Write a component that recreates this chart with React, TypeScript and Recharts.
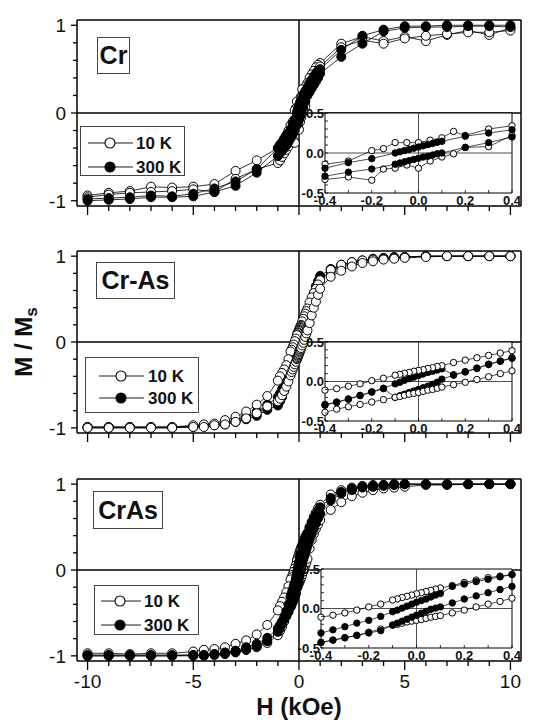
import React from 'react';
import { ScatterChart, Scatter, XAxis, YAxis, ReferenceLine, Legend } from 'recharts';

const FONT = "'Liberation Sans', Arial, Helvetica, sans-serif";

// ---- Cr film: field grids (kOe) and reduced magnetisation M/Ms ----
const crH10 = [-10, -9, -8, -7, -6, -5, -4, -3, -2, -1, -0.9, -0.8, -0.7, -0.6, -0.5,
  -0.4, -0.3, -0.2, -0.15, -0.1, -0.05, 0, 0.05, 0.1, 0.15, 0.2, 0.3, 0.4,
  0.5, 0.6, 0.7, 0.8, 0.9, 1, 2, 3, 4, 5, 6, 7, 8, 9, 10];
const crUpper10 = [-0.94, -0.91, -0.89, -0.84, -0.85, -0.84, -0.81, -0.66, -0.54, -0.40,
  -0.36, -0.33, -0.29, -0.25, -0.20,
  -0.14, -0.10, 0.03, 0.055, 0.13, 0.13, 0.13, 0.16, 0.19, 0.27, 0.22, 0.30, 0.34,
  0.40, 0.44, 0.48, 0.52, 0.55,
  0.57, 0.79, 0.87, 0.82, 0.87, 0.82, 0.89, 0.94, 0.89, 0.97];
const crLower10 = [-0.96, -0.93, -0.91, -0.90, -0.89, -0.87, -0.90, -0.75, -0.64, -0.57,
  -0.54, -0.50, -0.46, -0.42, -0.38,
  -0.33, -0.30, -0.34, -0.20, -0.19, -0.15, -0.19, -0.10, -0.05, -0.01, 0.07, 0.08, 0.22,
  0.27, 0.32, 0.38, 0.43, 0.48,
  0.53, 0.75, 0.83, 0.79, 0.85, 0.88, 0.90, 0.92, 0.92, 0.94];

const crH300 = [-10, -9, -8, -7, -6, -5, -4, -3, -2, -1, -0.9, -0.8, -0.7, -0.6, -0.5,
  -0.4, -0.3, -0.2, -0.1, -0.08, -0.06, -0.04, -0.02, 0, 0.02, 0.04, 0.06, 0.08, 0.1, 0.2, 0.3, 0.4,
  0.5, 0.6, 0.7, 0.8, 0.9, 1, 2, 3, 4, 5, 6, 7, 8, 9, 10];
const crUpper300 = [-0.98, -0.97, -0.96, -0.94, -0.95, -0.92, -0.86, -0.78, -0.64, -0.40,
  -0.37, -0.34, -0.30, -0.26, -0.23,
  -0.19, -0.12, -0.07, 0.0, 0.015, 0.03, 0.045, 0.06, 0.075, 0.09, 0.105, 0.12, 0.135, 0.146, 0.21, 0.25, 0.29,
  0.34, 0.38, 0.42, 0.45, 0.48,
  0.50, 0.72, 0.88, 0.95, 0.99, 0.99, 1.0, 1.0, 1.0, 1.0];
const crLower300 = [-1.0, -0.99, -0.98, -0.96, -0.96, -0.95, -0.90, -0.83, -0.68, -0.49,
  -0.46, -0.43, -0.40, -0.37, -0.33,
  -0.29, -0.24, -0.20, -0.14, -0.125, -0.11, -0.095, -0.08, -0.065, -0.05, -0.04, -0.025, -0.01, 0.0, 0.07, 0.13, 0.20,
  0.24, 0.28, 0.32, 0.36, 0.40,
  0.45, 0.64, 0.79, 0.93, 0.97, 0.98, 0.98, 0.99, 0.99, 0.98];

// ---- shared field grid for Cr-As and CrAs ----
const fieldGrid = [-10, -9, -8, -7, -6, -5, -4.5, -4, -3.5, -3, -2.5, -2, -1.5, -1,
  -0.9, -0.8, -0.7, -0.6, -0.5, -0.4, -0.35, -0.3, -0.25, -0.2, -0.15,
  -0.1, -0.08, -0.06, -0.04, -0.02, 0, 0.02, 0.04, 0.06, 0.08, 0.1,
  0.15, 0.2, 0.25, 0.3, 0.35, 0.4, 0.5, 0.6, 0.7, 0.8, 0.9,
  1, 1.5, 2, 2.5, 3, 3.5, 4, 4.5, 5, 6, 7, 8, 9, 10];

// ---- Cr-As ----
const crAsMixUpper10 = [-0.99, -0.99, -0.99, -0.99, -0.99,
  -0.97, -0.96, -0.95, -0.91, -0.87, -0.81, -0.73, -0.63, -0.45,
  -0.40, -0.36, -0.32, -0.27, -0.20,
  -0.11, -0.09, -0.06, -0.03, 0.01, 0.04,
  0.08, 0.09, 0.105, 0.115, 0.13, 0.14, 0.15, 0.165, 0.175, 0.19, 0.20,
  0.24, 0.27, 0.30, 0.33, 0.36, 0.39,
  0.46, 0.52, 0.57, 0.62, 0.67,
  0.72, 0.84, 0.90, 0.93, 0.95, 0.96, 0.97, 0.98, 0.99,
  1.0, 1.0, 1.0, 1.0, 1.0];
const crAsMixLower10 = [-1.0, -1.0, -1.0, -1.0, -1.0,
  -0.99, -0.99, -0.97, -0.96, -0.93, -0.89, -0.83, -0.75, -0.69,
  -0.66, -0.62, -0.57, -0.52, -0.46,
  -0.39, -0.35, -0.32, -0.29, -0.26, -0.23,
  -0.20, -0.19, -0.175, -0.16, -0.15, -0.14, -0.125, -0.11, -0.10, -0.085, -0.07,
  -0.04, -0.01, 0.025, 0.06, 0.10, 0.135,
  0.22, 0.31, 0.40, 0.47, 0.55,
  0.62, 0.76, 0.83, 0.88, 0.92, 0.94, 0.96, 0.97, 0.98,
  0.99, 1.0, 1.0, 1.0, 1.0];
const crAsMixUpper300 = [-0.99, -0.99, -0.99, -0.99, -0.99,
  -0.98, -0.97, -0.96, -0.94, -0.91, -0.87, -0.81, -0.73, -0.64,
  -0.60, -0.55, -0.49, -0.42, -0.35,
  -0.29, -0.26, -0.22, -0.175, -0.13, -0.085,
  -0.03, -0.01, 0.015, 0.035, 0.055, 0.075, 0.095, 0.115, 0.13, 0.145, 0.16,
  0.085, 0.125, 0.17, 0.22, 0.26, 0.30,
  0.40, 0.49, 0.57, 0.65, 0.71,
  0.77, 0.85, 0.90, 0.93, 0.95, 0.97, 0.98, 0.99, 0.99,
  1.0, 1.0, 1.0, 1.0, 1.0];
const crAsMixLower300 = [-1.0, -1.0, -1.0, -1.0, -1.0,
  -0.99, -0.98, -0.97, -0.96, -0.93, -0.90, -0.86, -0.79, -0.74,
  -0.69, -0.64, -0.57, -0.49, -0.40,
  -0.30, -0.265, -0.225, -0.18, -0.135, -0.09,
  -0.20, -0.18, -0.16, -0.14, -0.12, -0.10, -0.08, -0.06, -0.035, -0.01, 0.03,
  0.08, 0.12, 0.165, 0.215, 0.255, 0.295,
  0.36, 0.44, 0.52, 0.60, 0.66,
  0.72, 0.82, 0.88, 0.92, 0.94, 0.96, 0.97, 0.98, 0.99,
  1.0, 1.0, 1.0, 1.0, 1.0];

// ---- CrAs ----
const crAsUpper10 = [-0.97, -0.97, -0.98, -0.97, -0.97,
  -0.95, -0.93, -0.92, -0.90, -0.86, -0.82, -0.75, -0.64, -0.47,
  -0.42, -0.37, -0.32, -0.26, -0.19,
  -0.11, -0.085, -0.056, -0.02, 0.02, 0.056,
  0.107, 0.122, 0.14, 0.154, 0.17, 0.186, 0.20, 0.216, 0.23, 0.246, 0.26,
  0.29, 0.33, 0.36, 0.39, 0.41, 0.43,
  0.50, 0.56, 0.62, 0.67, 0.72,
  0.76, 0.88, 0.93, 0.96, 0.98, 0.99, 0.99, 1.0, 1.0,
  1.0, 1.0, 1.0, 1.0, 1.0];
const crAsLower10 = [-1.0, -1.0, -1.0, -1.0, -1.0,
  -0.99, -0.99, -0.98, -0.97, -0.95, -0.93, -0.90, -0.85, -0.76,
  -0.71, -0.66, -0.60, -0.54, -0.49,
  -0.43, -0.40, -0.37, -0.34, -0.30, -0.26,
  -0.21, -0.20, -0.186, -0.17, -0.16, -0.15, -0.14, -0.125, -0.11, -0.10, -0.09,
  -0.056, -0.02, 0.02, 0.056, 0.09, 0.13,
  0.25, 0.35, 0.42, 0.48, 0.53,
  0.58, 0.70, 0.79, 0.86, 0.90, 0.93, 0.95, 0.96, 0.97,
  0.99, 0.99, 1.0, 1.0, 1.0];
const crAsUpper300 = [-0.99, -0.99, -0.99, -0.99, -0.99,
  -0.99, -0.99, -0.98, -0.96, -0.94, -0.90, -0.86, -0.79, -0.68,
  -0.64, -0.60, -0.55, -0.48, -0.40,
  -0.31, -0.27, -0.23, -0.185, -0.15, -0.10,
  -0.04, -0.02, 0.005, 0.03, 0.055, 0.08, 0.10, 0.12, 0.145, 0.17, 0.19,
  0.28, 0.31, 0.34, 0.37, 0.40, 0.43,
  0.49, 0.55, 0.60, 0.65, 0.69,
  0.73, 0.84, 0.91, 0.95, 0.97, 0.98, 0.99, 1.0, 1.0,
  1.0, 1.0, 1.0, 1.0, 1.0];
const crAsLower300 = [-1.0, -1.0, -1.0, -1.0, -1.0,
  -1.0, -1.0, -0.99, -0.98, -0.96, -0.93, -0.89, -0.83, -0.72,
  -0.68, -0.63, -0.58, -0.53, -0.48,
  -0.43, -0.40, -0.37, -0.34, -0.31, -0.28,
  -0.21, -0.185, -0.16, -0.135, -0.11, -0.085, -0.06, -0.035, -0.01, 0.005, 0.02,
  0.07, 0.12, 0.16, 0.20, 0.24, 0.28,
  0.35, 0.42, 0.48, 0.54, 0.60,
  0.66, 0.81, 0.89, 0.93, 0.96, 0.97, 0.98, 0.99, 1.0,
  1.0, 1.0, 1.0, 1.0, 1.0];

// ---- axes ----
const mainXTicks = [-10, -9, -8, -7, -6, -5, -4, -3, -2, -1, 0, 1, 2, 3, 4, 5, 6, 7, 8, 9, 10];
const mainXLabels = [-10, -5, 0, 5, 10];
const mainYTicks = [-1, -0.8, -0.6, -0.4, -0.2, 0, 0.2, 0.4, 0.6, 0.8, 1];
const mainYLabels = [-1, 0, 1];
const insetXTicks = [-0.4, -0.3, -0.2, -0.1, 0, 0.1, 0.2, 0.3, 0.4];
const insetXLabels = [-0.4, -0.2, 0, 0.2, 0.4];
const insetYTicks = [-0.5, -0.4, -0.3, -0.2, -0.1, 0, 0.1, 0.2, 0.3, 0.4, 0.5];
const insetYLabels = [-0.5, 0, 0.5];
const legendOrder = ['10 K', '300 K'];

const X_DOMAIN: [number, number] = [-10.5, 10.5];
const Y_DOMAIN: [number, number] = [-1.06, 1.06];

type Pt = { x: number; y: number };
const branch = (h: number[], m: number[], descending: boolean, lim = Infinity): Pt[] => {
  const pts = h.map((x, i) => ({ x, y: m[i] })).filter((p) => Math.abs(p.x) <= lim + 1e-9);
  return descending ? pts.reverse() : pts;
};

const has = (list: number[], v: number) => list.some((m) => Math.abs(m - v) < 1e-9);

const mainXTick = (showLabel: boolean) => (p: any) => {
  const v = Number(p.payload.value);
  const major = has(mainXLabels, v);
  return (
    <g>
      <line x1={p.x} x2={p.x} y1={p.y} y2={p.y + (major ? 9 : 5)} stroke="#000" strokeWidth={1.3} />
      {major && showLabel ? (
        <text x={p.x} y={p.y + 27} textAnchor="middle" fontFamily={FONT} fontSize={19} fill="#111">{v}</text>
      ) : null}
    </g>
  );
};

const mainYTick = (p: any) => {
  const v = Number(p.payload.value);
  const major = has(mainYLabels, v);
  return (
    <g>
      <line x1={p.x - (major ? 6 : 4)} x2={p.x} y1={p.y} y2={p.y} stroke="#000" strokeWidth={1.3} />
      {major ? (
        <text x={p.x - 11} y={p.y + 7} textAnchor="end" fontFamily={FONT} fontSize={19} fill="#111">{v}</text>
      ) : null}
    </g>
  );
};

const insetXTick = (p: any) => {
  const v = Number(p.payload.value);
  return (
    <g>
      <line x1={p.x} x2={p.x} y1={p.y} y2={p.y - 3} stroke="#000" strokeWidth={0.8} />
      {has(insetXLabels, v) ? (
        <text x={p.x} y={p.y + 12} textAnchor="middle" fontFamily={FONT} fontWeight="bold" fontSize={13} fill="#111">{v.toFixed(1)}</text>
      ) : null}
    </g>
  );
};

const insetYTick = (p: any) => {
  const v = Number(p.payload.value);
  return (
    <g>
      <line x1={p.x} x2={p.x + 3} y1={p.y} y2={p.y} stroke="#000" strokeWidth={0.8} />
      {has(insetYLabels, v) ? (
        <text x={p.x - 1} y={p.y + 4.5} textAnchor="end" fontFamily={FONT} fontWeight="bold" fontSize={13} fill="#111">{v.toFixed(1)}</text>
      ) : null}
    </g>
  );
};

const marker = (filled: boolean, r: number) => (p: any) => (
  <circle cx={p.cx} cy={p.cy} r={r} fill={filled ? '#000' : '#fff'} stroke="#000" strokeWidth={1} />
);

type Series = { name: string; filled: boolean; h: number[]; upper: number[]; lower: number[] };
type LegendGeom = { left: number; top: number; w: number; h: number; lineX1: number; lineX2: number; markerX: number; textX: number; rowY: number[] };

const renderLegend = (g: LegendGeom) => (props: any) => {
  const names = (props.payload ?? []).map((e: any) => e.value);
  const rows = legendOrder.filter((n) => names.length === 0 || names.includes(n));
  return (
    <div style={{ width: g.w, height: g.h, border: '1px solid #444', boxSizing: 'border-box', background: '#fff' }}>
      <svg width={g.w - 2} height={g.h - 2} style={{ display: 'block', overflow: 'visible' }}>
        {rows.map((name, i) => (
          <g key={name}>
            <line x1={g.lineX1} x2={g.lineX2} y1={g.rowY[i]} y2={g.rowY[i]} stroke="#000" strokeWidth={0.9} />
            <circle cx={g.markerX} cy={g.rowY[i]} r={5} fill={name === '300 K' ? '#000' : '#fff'} stroke="#000" strokeWidth={1.1} />
            <text x={g.textX} y={g.rowY[i] + 6} fontFamily={FONT} fontWeight="bold" fontSize={17} fill="#111">{name}</text>
          </g>
        ))}
      </svg>
    </div>
  );
};

type PanelLayout = { top: number; height: number; mTop: number; xAxisH: number };

function MainChart({ layout, series, legend, bottom, yTitle }: { layout: PanelLayout; series: Series[]; legend: LegendGeom; bottom?: boolean; yTitle?: boolean }) {
  return (
    <div style={{ position: 'absolute', left: 0, top: layout.top }}>
      <ScatterChart width={544} height={layout.height} margin={{ top: layout.mTop, right: 23, bottom: 0, left: 37 }}>
        <XAxis
          type="number" dataKey="x" domain={X_DOMAIN} ticks={mainXTicks} interval={0}
          tickLine={false} tickSize={0} tickMargin={0} tick={mainXTick(!!bottom)}
          axisLine={{ stroke: '#000', strokeWidth: 1.5 }} height={layout.xAxisH}
          label={bottom ? {
            content: () => (
              <text x={299} y={255} textAnchor="middle" fontFamily={FONT} fontWeight="bold" fontSize={24} fill="#111">H (kOe)</text>
            ),
          } : undefined}
        />
        <YAxis
          type="number" dataKey="y" domain={Y_DOMAIN} ticks={mainYTicks} interval={0}
          tickLine={false} tickSize={0} tickMargin={0} tick={mainYTick}
          axisLine={{ stroke: '#000', strokeWidth: 1.5 }} width={40}
          label={yTitle ? {
            content: () => (
              <text x={32} y={112} transform="rotate(-90 32 112)" textAnchor="middle" fontFamily={FONT} fontWeight="bold" fontSize={24} fill="#111">
                M / M<tspan dy={5} fontSize={17}>s</tspan>
              </text>
            ),
          } : undefined}
        />
        <ReferenceLine x={X_DOMAIN[1]} stroke="#000" strokeWidth={1.5} />
        <ReferenceLine y={Y_DOMAIN[1]} stroke="#000" strokeWidth={1.5} />
        <ReferenceLine x={0} stroke="#000" strokeWidth={1.5} />
        <ReferenceLine y={0} stroke="#000" strokeWidth={1.5} />
        {series.map((s) => (
          <React.Fragment key={s.name}>
            <Scatter
              name={s.name} data={branch(s.h, s.upper, true)} fill={s.filled ? '#000' : '#fff'}
              line={{ stroke: '#000', strokeWidth: 0.8 }} lineType="joint"
              shape={marker(s.filled, 4.5)} isAnimationActive={false}
            />
            <Scatter
              name={s.name + ' up'} legendType="none" data={branch(s.h, s.lower, false)} fill={s.filled ? '#000' : '#fff'}
              line={{ stroke: '#000', strokeWidth: 0.8 }} lineType="joint"
              shape={marker(s.filled, 4.5)} isAnimationActive={false}
            />
          </React.Fragment>
        ))}
        <Legend
          verticalAlign="middle" align="center" layout="horizontal"
          wrapperStyle={{ left: legend.left, top: legend.top, width: legend.w, height: legend.h }}
          content={renderLegend(legend)}
        />
      </ScatterChart>
    </div>
  );
}

type InsetBox = { left: number; top: number; w: number; h: number };

function InsetChart({ box, series }: { box: InsetBox; series: Series[] }) {
  const yW = 34, mTop = 8, mRight = 8, xH = 18;
  return (
    <>
      <div style={{ position: 'absolute', left: box.left, top: box.top, width: box.w, height: box.h, background: '#fff' }} />
      <div style={{ position: 'absolute', left: box.left - yW, top: box.top - mTop }}>
        <ScatterChart width={yW + box.w + mRight} height={mTop + box.h + xH} margin={{ top: mTop, right: mRight, bottom: 0, left: 0 }}>
          <XAxis
            type="number" dataKey="x" domain={[-0.4, 0.4]} ticks={insetXTicks} interval={0}
            tickLine={false} tickSize={0} tickMargin={0} tick={insetXTick}
            axisLine={{ stroke: '#000', strokeWidth: 1 }} height={xH}
          />
          <YAxis
            type="number" dataKey="y" domain={[-0.5, 0.5]} ticks={insetYTicks} interval={0}
            tickLine={false} tickSize={0} tickMargin={0} tick={insetYTick}
            axisLine={{ stroke: '#000', strokeWidth: 1 }} width={yW}
          />
          <ReferenceLine x={0.4} stroke="#000" strokeWidth={1} />
          <ReferenceLine y={0.5} stroke="#000" strokeWidth={1} />
          <ReferenceLine x={0} stroke="#222" strokeWidth={0.8} />
          <ReferenceLine y={0} stroke="#222" strokeWidth={0.8} />
          {series.map((s) => (
            <React.Fragment key={s.name}>
              <Scatter
                name={s.name} data={branch(s.h, s.upper, true, 0.4)}
                line={{ stroke: '#000', strokeWidth: 0.7 }} lineType="joint"
                shape={marker(s.filled, 3.2)} isAnimationActive={false}
              />
              <Scatter
                name={s.name + ' up'} data={branch(s.h, s.lower, false, 0.4)}
                line={{ stroke: '#000', strokeWidth: 0.7 }} lineType="joint"
                shape={marker(s.filled, 3.2)} isAnimationActive={false}
              />
            </React.Fragment>
          ))}
        </ScatterChart>
      </div>
    </>
  );
}

function TitleBox({ text, left, top, w, h }: { text: string; left: number; top: number; w: number; h: number }) {
  return (
    <div style={{
      position: 'absolute', left, top, width: w, height: h, border: '1px solid #444', boxSizing: 'border-box',
      display: 'flex', alignItems: 'center', justifyContent: 'center', background: '#fff',
      fontFamily: FONT, fontWeight: 'bold', fontSize: 25, color: '#111',
    }}>{text}</div>
  );
}

const crSeries: Series[] = [
  { name: '10 K', filled: false, h: crH10, upper: crUpper10, lower: crLower10 },
  { name: '300 K', filled: true, h: crH300, upper: crUpper300, lower: crLower300 },
];
const crAsMixSeries: Series[] = [
  { name: '300 K', filled: true, h: fieldGrid, upper: crAsMixUpper300, lower: crAsMixLower300 },
  { name: '10 K', filled: false, h: fieldGrid, upper: crAsMixUpper10, lower: crAsMixLower10 },
];
const crAsSeries: Series[] = [
  { name: '10 K', filled: false, h: fieldGrid, upper: crAsUpper10, lower: crAsLower10 },
  { name: '300 K', filled: true, h: fieldGrid, upper: crAsUpper300, lower: crAsLower300 },
];

export default function App() {
  return (
    <div style={{ position: 'absolute', left: 0, top: 0, width: 544, height: 727, background: '#fff', overflow: 'hidden' }}>
      <MainChart
        layout={{ top: 0, height: 222, mTop: 20, xAxisH: 16 }} series={crSeries}
        legend={{ left: 80, top: 126, w: 105, h: 50, lineX1: 7, lineX2: 52, markerX: 29, textX: 55, rowY: [16, 40] }}
      />
      <MainChart
        layout={{ top: 230, height: 219, mTop: 21, xAxisH: 16 }} series={crAsMixSeries} yTitle
        legend={{ left: 85, top: 127, w: 114, h: 56, lineX1: 13, lineX2: 58, markerX: 35, textX: 62, rowY: [18, 40] }}
      />
      <MainChart
        layout={{ top: 460, height: 267, mTop: 19, xAxisH: 66 }} series={crAsSeries} bottom
        legend={{ left: 94, top: 125, w: 105, h: 50, lineX1: 6, lineX2: 46, markerX: 25, textX: 49, rowY: [15, 39] }}
      />
      <InsetChart box={{ left: 325, top: 113, w: 187, h: 80 }} series={crSeries} />
      <InsetChart box={{ left: 325, top: 342, w: 187, h: 79 }} series={crAsMixSeries} />
      <InsetChart box={{ left: 321, top: 569, w: 191, h: 79 }} series={crAsSeries} />
      <TitleBox text="Cr" left={97} top={37} w={33} h={37} />
      <TitleBox text="Cr-As" left={96} top={262} w={79} h={37} />
      <TitleBox text="CrAs" left={93} top={491} w={70} h={38} />
    </div>
  );
}
